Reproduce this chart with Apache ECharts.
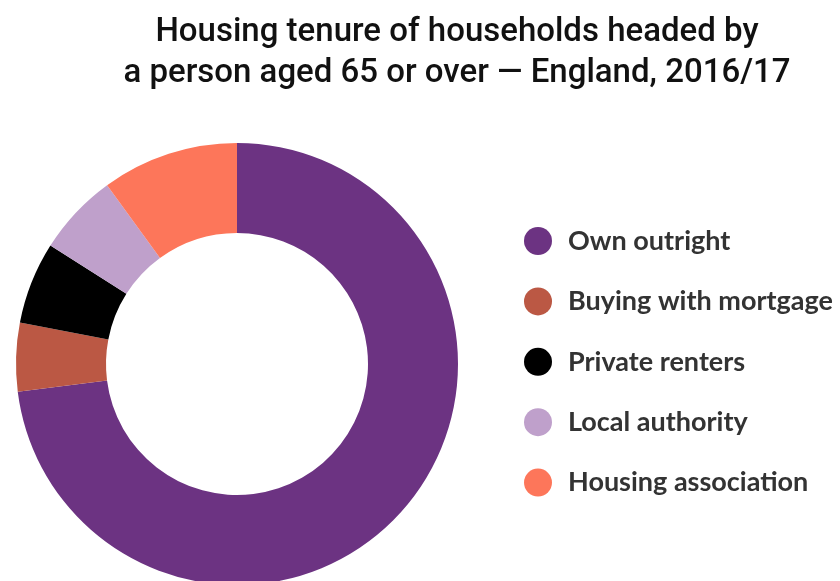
<!DOCTYPE html>
<html>
<head>
<meta charset="utf-8">
<script src="https://cdn.jsdelivr.net/npm/echarts@6/dist/echarts.min.js"></script>
<style>html,body{margin:0;padding:0;background:#fff}#c{width:840px;height:581px}</style>
</head>
<body>
<div id="c"></div>
<script>
const categories = ['Own outright', 'Buying with mortgage', 'Private renters', 'Local authority', 'Housing association'];
const values = [73, 5, 6, 6, 10];
const colors = ['#6c3382', '#bb5844', '#000000', '#bfa0cb', '#fd765a'];
const titleText = 'Housing tenure of households headed by\na person aged 65 or over \u2014 England, 2016/17';

const chart = echarts.init(document.getElementById('c'));
chart.setOption({
  animation: false,
  title: {
    text: titleText,
    left: 452,
    top: 7,
    textAlign: 'center',
    textStyle: {
      fontFamily: 'Roboto',
      fontWeight: 500,
      fontSize: 33,
      lineHeight: 41,
      color: '#111',
      align: 'center'
    }
  },
  legend: {
    orient: 'vertical',
    left: 519,
    top: 222,
    icon: 'circle',
    itemWidth: 28,
    itemHeight: 28,
    itemGap: 32.4,
    selectedMode: false,
    data: categories,
    textStyle: {
      fontFamily: 'Lato',
      fontWeight: 'bold',
      fontSize: 27,
      color: '#333',
      padding: [0, 0, 0, 11]
    }
  },
  series: [{
    type: 'pie',
    center: [237, 364],
    radius: [131, 221],
    startAngle: 90,
    clockwise: true,
    label: { show: false },
    labelLine: { show: false },
    emphasis: { disabled: true },
    data: categories.map((n, i) => ({ name: n, value: values[i], itemStyle: { color: colors[i] } }))
  }]
});
</script>
</body>
</html>
